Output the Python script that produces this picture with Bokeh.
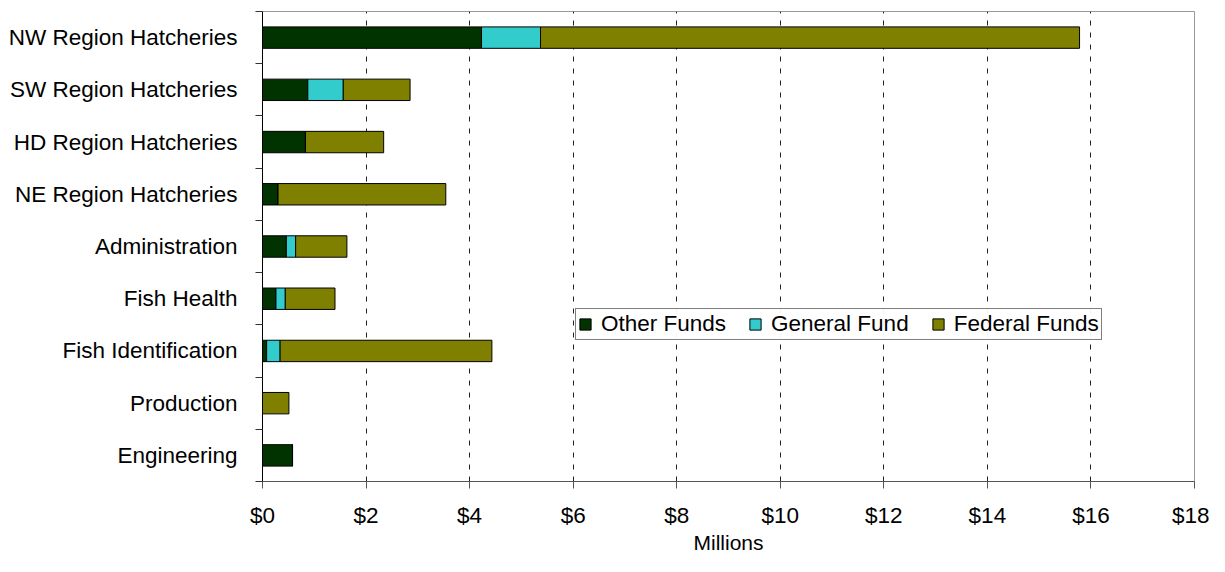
from bokeh.plotting import figure
from bokeh.models import ColumnDataSource, FixedTicker, Legend, LegendItem
from bokeh.embed import file_html
from bokeh.resources import INLINE

categories = ["Engineering", "Production", "Fish Identification", "Fish Health",
              "Administration", "NE Region Hatcheries", "HD Region Hatcheries",
              "SW Region Hatcheries", "NW Region Hatcheries"]
other_funds = [0.58, 0.0, 0.08, 0.26, 0.46, 0.30, 0.83, 0.875, 4.23]
general_fund = [0.0, 0.0, 0.26, 0.18, 0.18, 0.0, 0.0, 0.685, 1.14]
federal_funds = [0.0, 0.51, 4.09, 0.96, 0.99, 3.24, 1.51, 1.29, 10.41]
series_names = ["Other Funds", "General Fund", "Federal Funds"]
colors = ["#003300", "#33CCCC", "#808000"]
x_ticks = [0, 2, 4, 6, 8, 10, 12, 14, 16, 18]

ypos = [i + 0.5 for i in range(len(categories))]
source = ColumnDataSource(dict(y=ypos, other=other_funds, general=general_fund, federal=federal_funds))

p = figure(width=1209, height=556, output_backend="svg", toolbar_location=None,
           x_range=(0, 18), y_range=(0, len(categories)),
           min_border_left=262, min_border_right=15, min_border_top=11, min_border_bottom=70)

renderers = p.hbar_stack(["other", "general", "federal"], y="y", height=0.41, color=colors,
                         line_color="black", line_width=1, source=source)

FONT = "Liberation Sans"

# x axis
p.xaxis.ticker = FixedTicker(ticks=x_ticks)
p.xaxis.major_label_overrides = {t: f"${t}" for t in x_ticks}
p.xaxis.axis_label = "Millions"
p.xaxis.axis_label_text_font = FONT
p.xaxis.axis_label_text_font_size = "21px"
p.xaxis.axis_label_text_font_style = "normal"
p.xaxis.axis_label_text_color = "black"
p.xaxis.axis_label_standoff = 0
p.xaxis.major_label_text_font = FONT
p.xaxis.major_label_text_font_size = "22.5px"
p.xaxis.major_label_text_color = "black"
p.xaxis.major_label_standoff = 14
p.xaxis.major_tick_in = 0
p.xaxis.major_tick_out = 7
p.xaxis.minor_tick_line_color = None
p.xaxis.axis_line_color = "#555555"
p.xaxis.major_tick_line_color = "#555555"

# y axis
p.yaxis.ticker = FixedTicker(ticks=ypos, minor_ticks=list(range(len(categories) + 1)))
p.yaxis.major_label_overrides = {y: c for y, c in zip(ypos, categories)}
p.yaxis.major_label_text_font = FONT
p.yaxis.major_label_text_font_size = "22.5px"
p.yaxis.major_label_text_color = "black"
p.yaxis.major_tick_line_color = None
p.yaxis.major_tick_in = 0
p.yaxis.major_tick_out = 0
p.yaxis.major_label_standoff = 18
p.yaxis.minor_tick_in = 0
p.yaxis.minor_tick_out = 7
p.yaxis.minor_tick_line_color = "#333333"
p.yaxis.axis_line_color = "#000000"

# grid
p.ygrid.grid_line_color = None
p.xgrid.grid_line_color = "#222222"
p.xgrid.grid_line_dash = "5 7"
p.xgrid.grid_line_width = 1

p.outline_line_color = "#999999"
p.background_fill_color = "white"
p.border_fill_color = "white"

legend = Legend(items=[LegendItem(label=n, renderers=[r]) for n, r in zip(series_names, renderers)],
                orientation="horizontal", location=(313, 141),
                label_text_font=FONT, label_text_font_size="22.5px", label_text_color="black",
                glyph_width=14, glyph_height=14, label_standoff=9, spacing=22,
                padding=2, margin=0, border_line_color="#000000", border_line_width=1,
                label_height=20)
p.add_layout(legend, "center")

open("out.html", "w").write(file_html(p, INLINE))
